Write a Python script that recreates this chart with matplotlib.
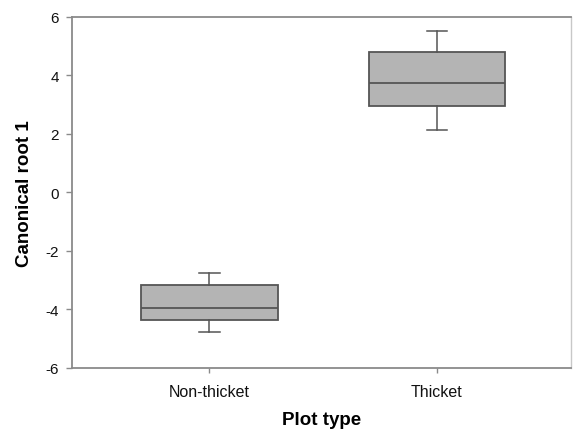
import matplotlib
matplotlib.use("Agg")
import matplotlib.pyplot as plt

# Box statistics
categories = ["Non-thicket", "Thicket"]
whisker_low = [-4.77, 2.13]
q1 = [-4.37, 2.95]
median = [-3.95, 3.74]
q3 = [-3.15, 4.81]
whisker_high = [-2.77, 5.51]

plt.rcParams["font.family"] = ["Liberation Sans", "DejaVu Sans"]

fig = plt.figure(figsize=(5.73, 4.31), dpi=100)
ax = fig.add_axes([0.1257, 0.1439, 0.8708, 0.8151])

stats = []
for i, name in enumerate(categories):
    stats.append({
        "label": name,
        "whislo": whisker_low[i],
        "q1": q1[i],
        "med": median[i],
        "q3": q3[i],
        "whishi": whisker_high[i],
        "fliers": [],
    })

edge = "#555555"
ax.bxp(stats, positions=[1, 2], widths=0.6, capwidths=0.09, patch_artist=True,
       showfliers=False,
       boxprops=dict(facecolor="#b4b4b4", edgecolor=edge, linewidth=1.3),
       medianprops=dict(color=edge, linewidth=1.3),
       whiskerprops=dict(color=edge, linewidth=1.1),
       capprops=dict(color=edge, linewidth=1.1))

ax.set_xlim(0.396, 2.59)
ax.set_ylim(-6, 6)
ax.set_yticks([-6, -4, -2, 0, 2, 4, 6])
ax.set_yticklabels(["-6", "-4", "-2", "0", "2", "4", "6"])
ax.set_xticks([1, 2])
ax.set_xticklabels(categories)

for s in ax.spines.values():
    s.set_color("#8a8a8a")
    s.set_linewidth(1.3)
ax.spines["right"].set_color("#c8c8c8")
ax.spines["right"].set_linewidth(1.0)

ax.tick_params(axis="y", direction="out", length=4.3, width=1, color="#8a8a8a",
               labelsize=11, pad=5, labelcolor="#111111")
ax.tick_params(axis="x", direction="out", length=3.5, width=1, color="#8a8a8a",
               labelsize=11.5, pad=8, labelcolor="#111111")

ax.set_ylabel("Canonical root 1", fontsize=13.5, fontweight="bold", labelpad=9)
ax.set_xlabel("Plot type", fontsize=13.5, fontweight="bold", labelpad=9)

fig.savefig("out.png", dpi=100)
